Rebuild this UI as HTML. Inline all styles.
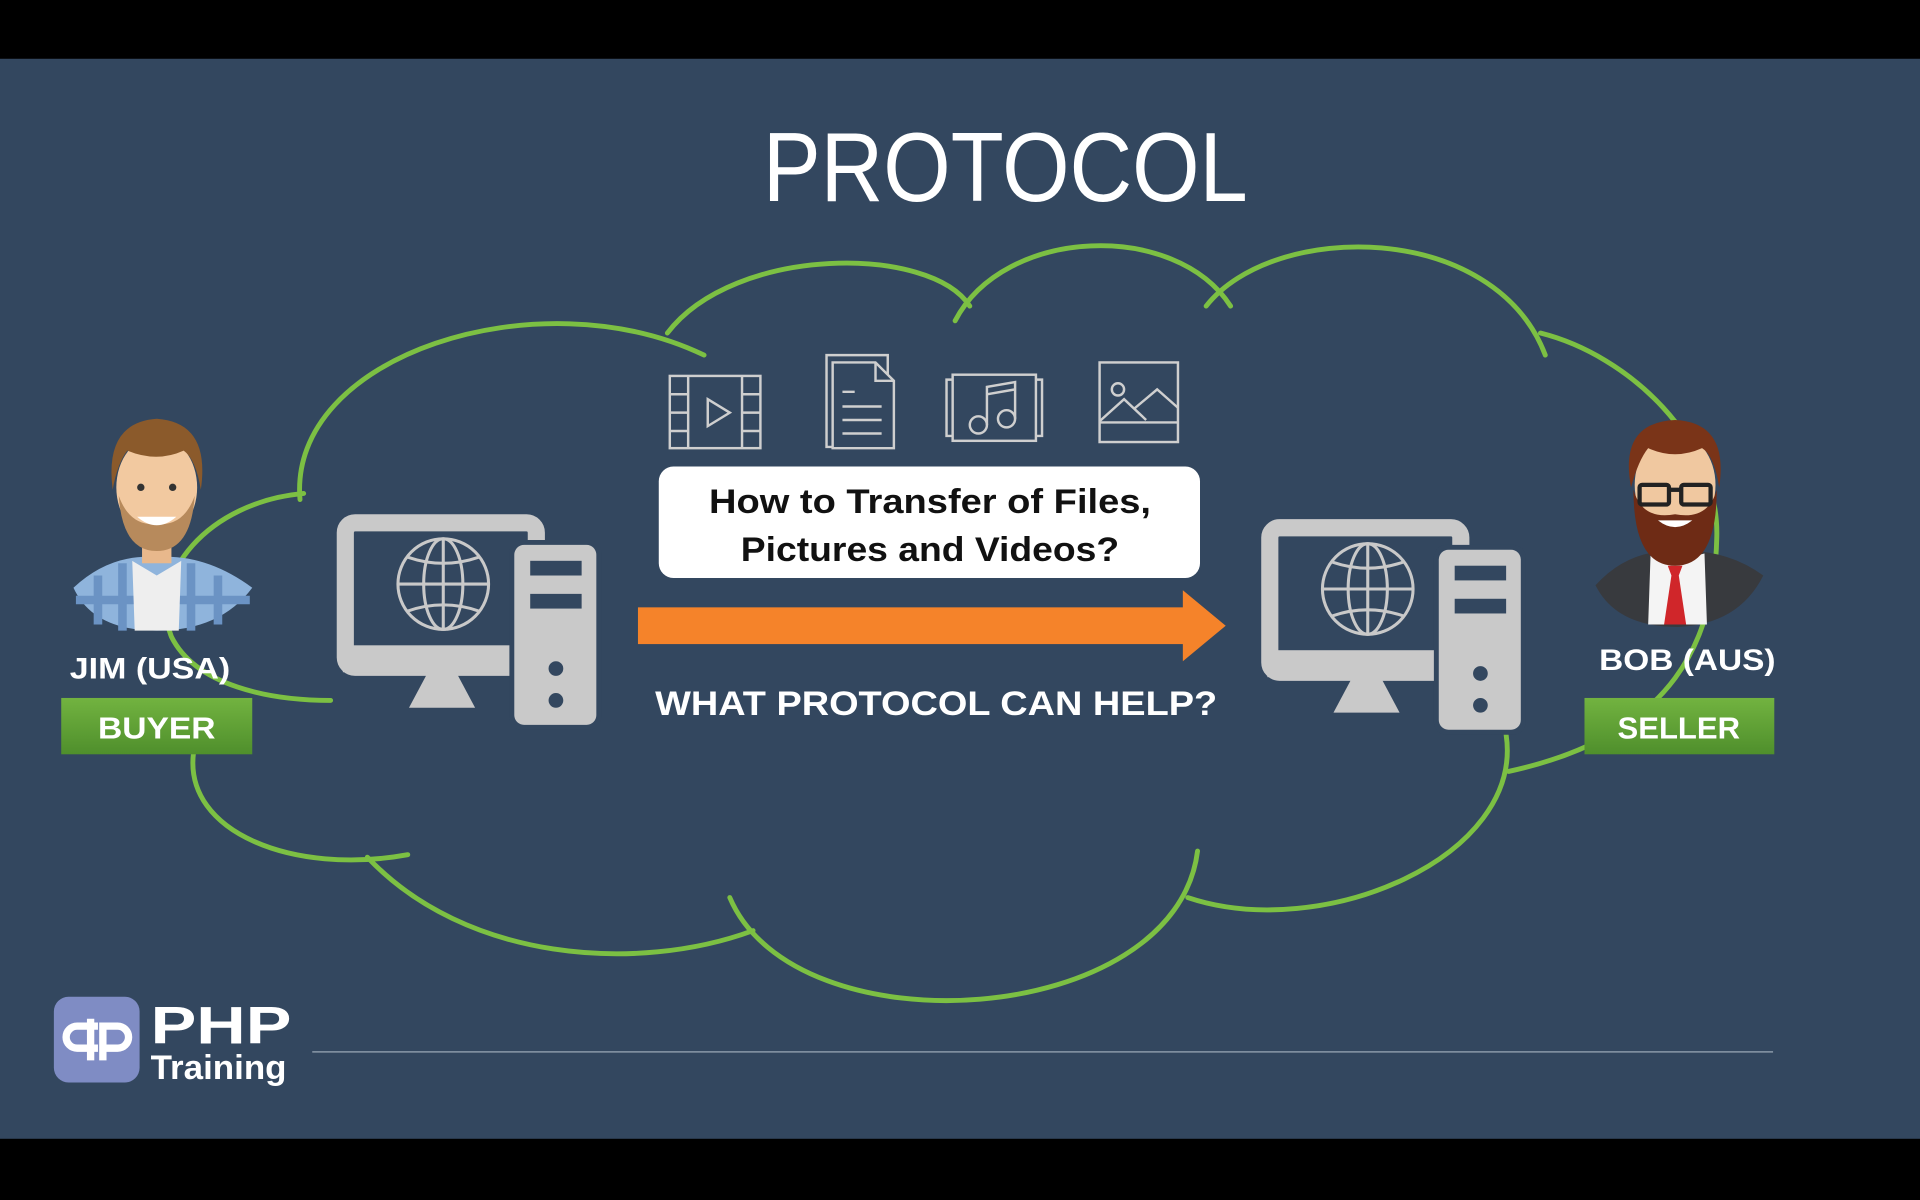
<!DOCTYPE html>
<html><head><meta charset="utf-8"><style>
html,body{margin:0;padding:0;background:#000;}
svg{display:block;}
text{font-family:"Liberation Sans",sans-serif;}
</style></head><body>
<svg width="1920" height="1200" viewBox="0 0 1568 980" xmlns="http://www.w3.org/2000/svg">
<defs>
<linearGradient id="g" x1="0" y1="0" x2="0" y2="1"><stop offset="0" stop-color="#72b340"/><stop offset="1" stop-color="#4f8f2c"/></linearGradient>
</defs>
<rect width="1568" height="980" fill="#000"/>
<rect y="48" width="1568" height="882" fill="#33475f"/>
<text x="623" y="164" font-size="80" fill="#fff" textLength="396" lengthAdjust="spacingAndGlyphs">PROTOCOL</text>

<!-- cloud -->
<g fill="none" stroke="#7cc043" stroke-width="4" stroke-linecap="round">
<path d="M245,408 C235,290 440,225 575,290"/>
<path d="M545,272 C600,200 760,200 792,250"/>
<path d="M780,262 C820,185 960,180 1005,250"/>
<path d="M985,250 C1040,180 1220,180 1262,290"/>
<path d="M1258,272 C1330,290 1405,360 1402,440 C1400,520 1370,600 1232,630"/>
<path d="M1230,600 C1245,700 1080,770 970,733"/>
<path d="M978,695 C960,840 650,860 596,733"/>
<path d="M615,760 C520,795 380,785 300,700"/>
<path d="M333,698 C240,715 150,680 158,615"/>
<path d="M248,403 C170,410 120,470 140,520 C160,560 220,572 270,572"/>
</g>

<!-- left computer -->
<g id="pc">
<rect x="282" y="427" width="156" height="118" rx="8" fill="none" stroke="#c9c9c9" stroke-width="14"/>
<rect x="280" y="527" width="160" height="22" fill="#c9c9c9"/>
<polygon points="350,548 372,548 388,578 334,578" fill="#c9c9c9"/>
<rect x="416" y="441" width="75" height="155" rx="10" fill="#33475f"/>
<rect x="420" y="445" width="67" height="147" rx="8" fill="#c9c9c9"/>
<rect x="433" y="458" width="42" height="12" fill="#33475f"/>
<rect x="433" y="485" width="42" height="12" fill="#33475f"/>
<circle cx="454" cy="546" r="6" fill="#33475f"/>
<circle cx="454" cy="572" r="6" fill="#33475f"/>
<g fill="none" stroke="#c9c9c9" stroke-width="2.5">
<circle cx="362" cy="477" r="37"/>
<ellipse cx="362" cy="477" rx="16" ry="37"/>
<line x1="362" y1="440" x2="362" y2="514"/>
<line x1="325" y1="477" x2="399" y2="477"/>
<path d="M333,455 Q362,465 391,455"/>
<path d="M333,499 Q362,489 391,499"/>
</g>
</g>
<use href="#pc" transform="translate(755 4)"/>

<!-- icons -->
<g fill="none" stroke="#cfcfcf" stroke-width="2">
<rect x="547" y="307" width="74" height="59"/>
<line x1="562" y1="307" x2="562" y2="366"/><line x1="606" y1="307" x2="606" y2="366"/>
<path d="M547,322h15M547,337h15M547,352h15M606,322h15M606,337h15M606,352h15"/>
<path d="M578,326 L596,337 L578,348Z"/>
<path d="M675,290 h50 v75 h-50Z"/>
<path d="M680,296 h35 l15,15 v55 h-50Z" fill="#33475f"/>
<path d="M715,296 v15 h15"/>
<path d="M688,320h10M688,332h32M688,343h32M688,354h32"/>
<rect x="778" y="306" width="68" height="54"/>
<path d="M778,310 h-5 v46 h5 M846,310 h5 v46 h-5"/>
<circle cx="799" cy="347" r="7"/><circle cx="822" cy="342" r="7"/>
<path d="M806,347 V316 L829,312 V342 M806,322 L829,318"/>
<rect x="898" y="296" width="64" height="65"/>
<line x1="898" y1="345" x2="962" y2="345"/>
<circle cx="913" cy="318" r="5"/>
<path d="M898,344 L918,326 L936,343 M926,334 L945,318 L962,333"/>
</g>

<!-- white box -->
<rect x="538" y="381" width="442" height="91" rx="12" fill="#fff"/>
<text x="579" y="419" font-size="28" font-weight="bold" fill="#111" textLength="361" lengthAdjust="spacingAndGlyphs">How to Transfer of Files,</text>
<text x="605" y="458" font-size="28" font-weight="bold" fill="#111" textLength="309" lengthAdjust="spacingAndGlyphs">Pictures and Videos?</text>

<!-- arrow -->
<rect x="521" y="496" width="448" height="30" fill="#f5832a"/>
<polygon points="966,482 1001,511 966,540" fill="#f5832a"/>
<text x="535" y="584" font-size="28" font-weight="bold" fill="#fff" textLength="459" lengthAdjust="spacingAndGlyphs">WHAT PROTOCOL CAN HELP?</text>

<!-- Jim -->
<g>
<path d="M60,480 Q90,452 128,455 Q168,452 206,480 Q180,515 128,515 Q76,515 60,480Z" fill="#8fb4dc"/>
<path d="M80,470 v40 M100,460 v55 M156,460 v55 M178,470 v40 M62,490 h142" stroke="#6b93c4" stroke-width="7"/>
<path d="M108,458 L128,470 L148,458 L146,515 L110,515Z" fill="#eeeeee"/>
<rect x="116" y="430" width="24" height="30" fill="#e8b88c"/>
<ellipse cx="128" cy="398" rx="33" ry="42" fill="#f2c9a0"/>
<path d="M97,405 Q100,450 128,450 Q156,450 159,405 Q150,430 128,428 Q106,430 97,405Z" fill="#b78a5c"/>
<path d="M112,422 Q128,436 144,422 Z" fill="#fff"/>
<path d="M92,400 Q85,345 128,342 Q172,345 164,400 Q160,375 150,368 Q128,378 104,368 Q96,378 92,400Z" fill="#8b5a2b"/>
<circle cx="115" cy="398" r="3" fill="#333"/><circle cx="141" cy="398" r="3" fill="#333"/>
</g>
<text x="57" y="554" font-size="24" font-weight="bold" fill="#fff" textLength="131" lengthAdjust="spacingAndGlyphs">JIM (USA)</text>
<rect x="50" y="570" width="156" height="46" fill="url(#g)"/>
<text x="80" y="603" font-size="25" font-weight="bold" fill="#fff" textLength="96" lengthAdjust="spacingAndGlyphs">BUYER</text>

<!-- Bob -->
<g>
<path d="M1303,478 Q1330,448 1370,450 Q1410,448 1440,470 Q1420,510 1370,512 Q1320,512 1303,478Z" fill="#383a3e"/>
<path d="M1348,452 L1368,458 L1392,452 L1394,510 L1346,510Z" fill="#f4f4f4"/>
<path d="M1362,462 h12 l-3,8 l6,40 h-18 l6,-40Z" fill="#d0262a"/>
<ellipse cx="1368" cy="396" rx="33" ry="42" fill="#f0c8a0"/>
<path d="M1334,400 Q1334,462 1368,462 Q1402,462 1402,400 Q1395,425 1368,420 Q1341,425 1334,400Z" fill="#6e2b15"/>
<path d="M1354,425 Q1368,436 1382,425Z" fill="#fff"/>
<path d="M1332,398 Q1322,345 1368,343 Q1412,345 1404,398 Q1400,372 1390,366 Q1368,376 1346,366 Q1338,376 1332,398Z" fill="#7a3418"/>
<g fill="none" stroke="#222" stroke-width="3.5"><rect x="1339" y="396" width="24" height="16" rx="2"/><rect x="1373" y="396" width="24" height="16" rx="2"/><line x1="1363" y1="400" x2="1373" y2="400"/></g>
</g>
<text x="1306" y="547" font-size="24" font-weight="bold" fill="#fff" textLength="144" lengthAdjust="spacingAndGlyphs">BOB (AUS)</text>
<rect x="1294" y="570" width="155" height="46" fill="url(#g)"/>
<text x="1321" y="603" font-size="25" font-weight="bold" fill="#fff" textLength="100" lengthAdjust="spacingAndGlyphs">SELLER</text>

<!-- logo -->
<rect x="44" y="814" width="70" height="70" rx="12" fill="#7f8cc4"/>
<g fill="none" stroke="#fff" stroke-width="6">
<path d="M80,838 h-17 a9,9 0 0 0 0,18 h17"/>
<path d="M74,832 v34"/>
<path d="M84,866 v-28 h12 a9,9 0 0 1 0,18 h-12"/>
</g>
<text x="123" y="852" font-size="43" font-weight="bold" fill="#fff" textLength="115" lengthAdjust="spacingAndGlyphs">PHP</text>
<text x="123" y="881" font-size="28" font-weight="bold" fill="#fff" textLength="111" lengthAdjust="spacingAndGlyphs">Training</text>
<line x1="255" y1="859" x2="1448" y2="859" stroke="#8a98a8" stroke-width="1.2"/>
</svg>
</body></html>
